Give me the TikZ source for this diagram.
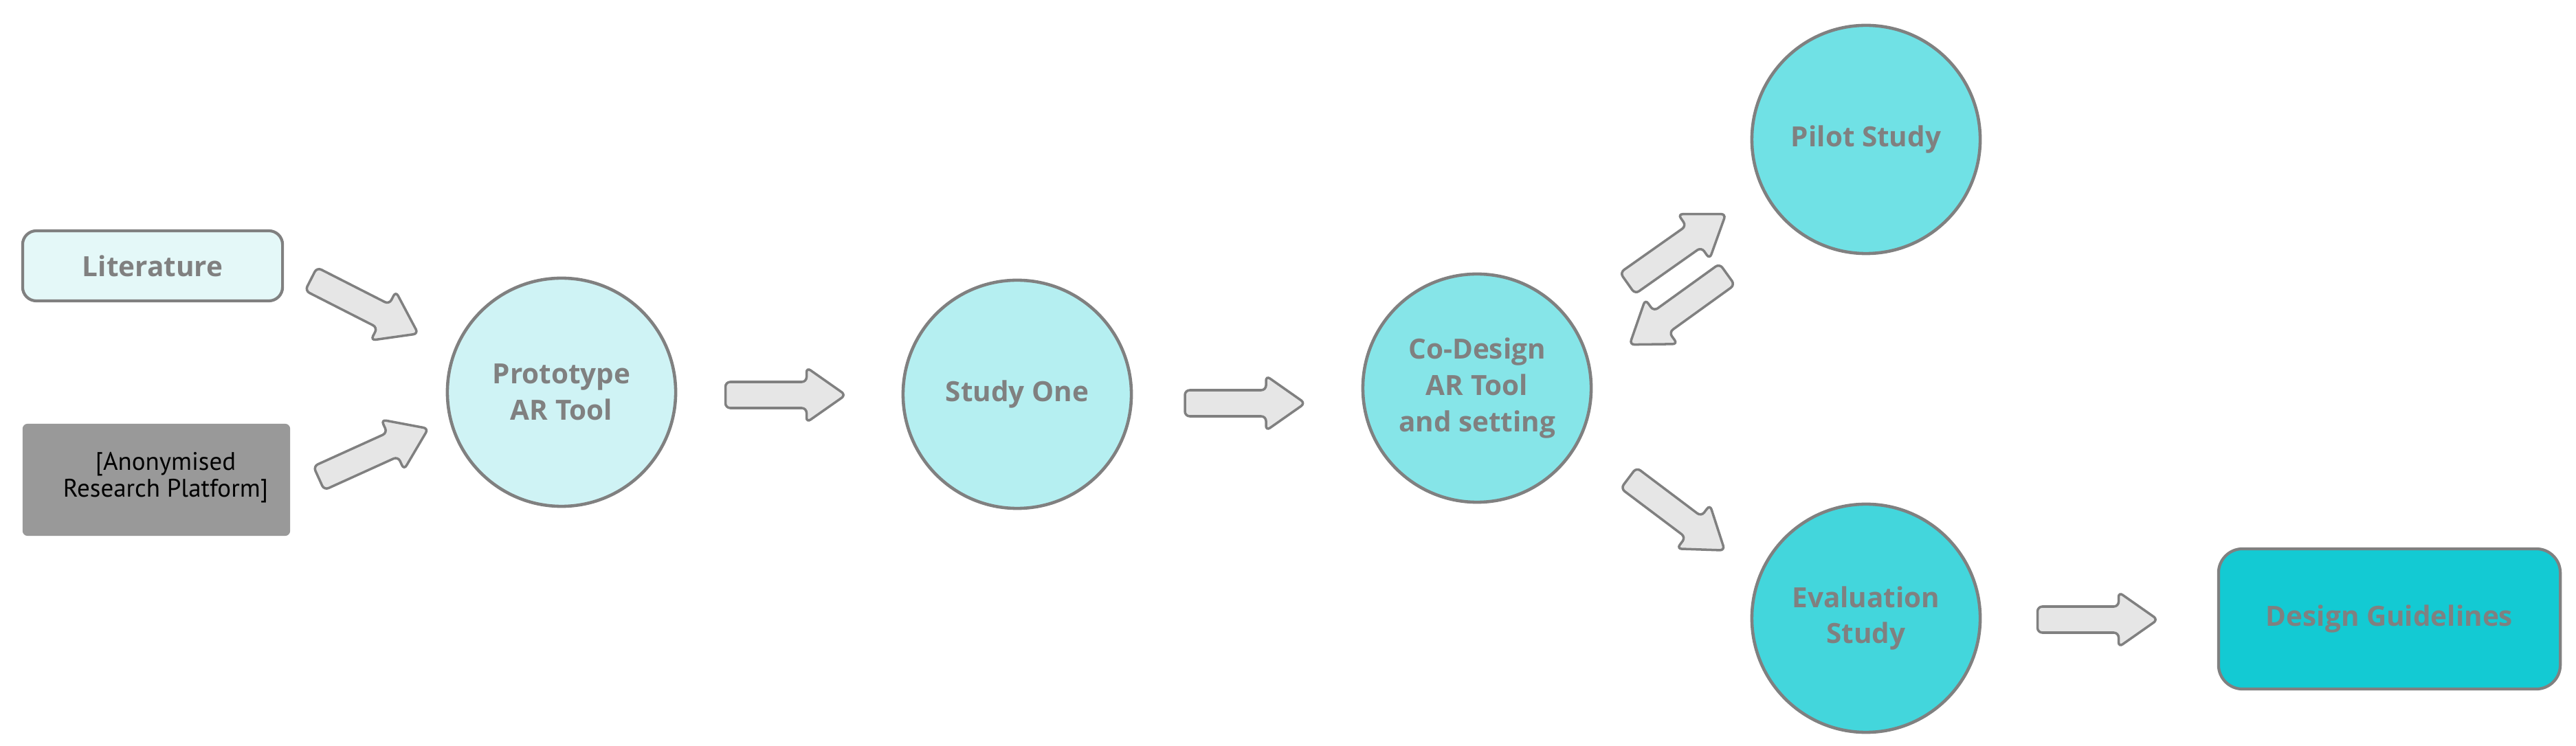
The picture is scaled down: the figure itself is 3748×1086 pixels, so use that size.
\documentclass[tikz,border=0pt]{standalone}
\usepackage{fontspec}
\setmainfont{Open Sans}
\newfontfamily\anonfont{PT Sans}
\definecolor{txtgray}{RGB}{128,128,128}
\definecolor{edgegray}{RGB}{128,128,128}
\definecolor{arrfill}{RGB}{230,230,230}
\definecolor{clit}{HTML}{E4F8F8}
\definecolor{cproto}{HTML}{CFF3F5}
\definecolor{cstudy}{HTML}{B5EFF1}
\definecolor{cco}{HTML}{86E5E8}
\definecolor{cpilot}{HTML}{70E1E5}
\definecolor{ceval}{HTML}{43D6DC}
\definecolor{cdg}{HTML}{13CAD3}
\definecolor{canon}{HTML}{999999}
\tikzset{
  lbl/.style={font=\fontsize{11.5}{15}\selectfont\bfseries, text=txtgray, align=center},
  stage/.style={circle, draw=edgegray, line width=1.3pt, minimum size=3.32cm, inner sep=0pt, lbl},
  boxnode/.style={rectangle, draw=edgegray, line width=1.2pt, inner sep=0pt, lbl},
  barrow/.pic={\draw[fill=arrfill, draw=edgegray, line width=1pt, rounded corners=2pt]
     (-87.5,-19) -- (30.5,-19) -- (30.5,-40) -- (87.5,0) -- (30.5,40) -- (30.5,19) -- (-87.5,19) -- cycle;}
}
\begin{document}
\begin{tikzpicture}[x=0.01cm,y=-0.01cm]
\path[use as bounding box] (0,0) rectangle (3748,1086);
% nodes
\node[boxnode, fill=clit, rounded corners=0.2cm, minimum width=3.78cm, minimum height=1.02cm] (lit) at (222,387) {Literature};
\node[rectangle, fill=canon, rounded corners=2pt, minimum width=3.89cm, minimum height=1.63cm, inner sep=0pt] (anon) at (227.5,698.5) {};
\node[font=\anonfont\fontsize{10.5}{11}\selectfont, text=black, align=center, inner sep=0pt] (anontext) at (241,695) {[Anonymised\\Research Platform]};
\node[stage, fill=cproto] (proto) at (817,571) {Prototype\\AR Tool};
\node[stage, fill=cstudy] (study) at (1480,574) {Study One};
\node[stage, fill=cco] (co) at (2149,565) {Co-Design\\AR Tool\\and setting};
\node[stage, fill=cpilot] (pilot) at (2715,203) {Pilot Study};
\node[stage, fill=ceval] (eval) at (2715,900) {Evaluation\\Study};
\node[boxnode, fill=cdg, rounded corners=0.35cm, minimum width=4.97cm, minimum height=2.04cm] (dg) at (3476.5,901) {Design Guidelines};
% block arrows
\coordinate (a1) at (530.5,446);
\coordinate (a2) at (543.5,660);
\coordinate (a3) at (1143,575);
\coordinate (a4) at (1811.5,587);
\coordinate (a5) at (2439.5,362);
\coordinate (a6) at (2442,450.5);
\coordinate (a7) at (2439.5,748.5);
\coordinate (a8) at (3052,902);
\pic[rotate=-27] at (a1) {barrow};
\pic[rotate=24.4] at (a2) {barrow};
\pic at (a3) {barrow};
\pic at (a4) {barrow};
\pic[rotate=35.2] at (a5) {barrow};
\pic[rotate=215.8] at (a6) {barrow};
\pic[rotate=-37] at (a7) {barrow};
\pic at (a8) {barrow};
\end{tikzpicture}
\end{document}
